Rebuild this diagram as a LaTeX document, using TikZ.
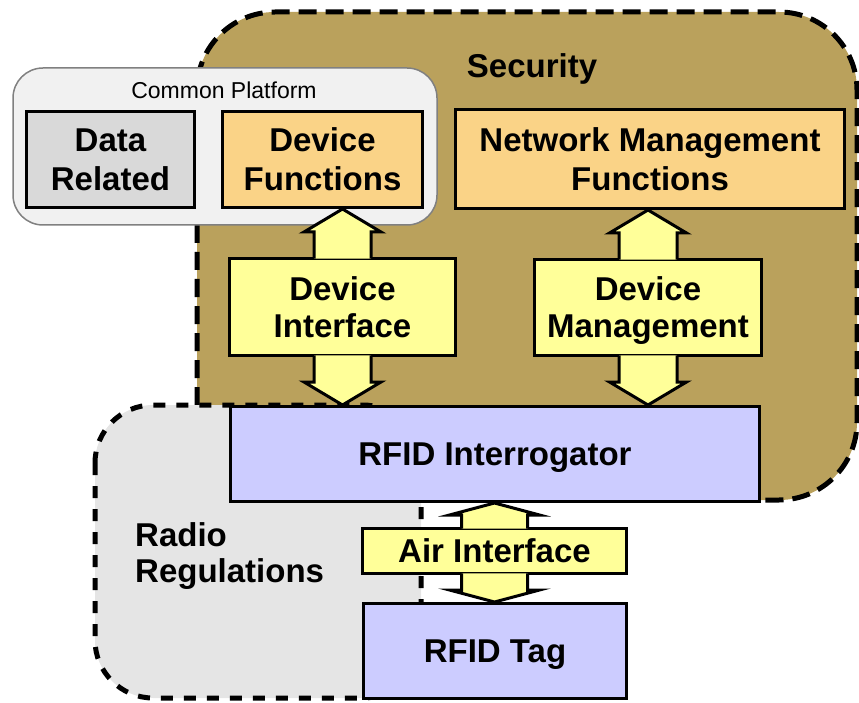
\documentclass[tikz,border=0pt]{standalone}
\usepackage{fontspec}
\setmainfont{Liberation Sans}
\usetikzlibrary{calc}
\definecolor{secfill}{RGB}{186,161,92}
\definecolor{radfill}{RGB}{229,229,229}
\definecolor{cpfill}{RGB}{241,241,241}
\definecolor{cpline}{RGB}{128,128,128}
\definecolor{datafill}{RGB}{217,217,217}
\definecolor{funfill}{RGB}{250,211,135}
\definecolor{armfill}{RGB}{255,255,153}
\definecolor{rfidfill}{RGB}{204,204,255}

\begin{document}
\begin{tikzpicture}[x=1pt,y=-1pt,
  blk/.style={draw,line width=3pt,inner sep=0pt,align=center,text depth=0pt,font=\bfseries\fontsize{33}{39}\selectfont},
  armbox/.style={blk,fill=armfill,font=\bfseries\fontsize{33}{37}\selectfont},
  arm/.style={fill=armfill,draw,line width=3pt,line join=miter},
  lbl/.style={inner sep=0pt,font=\bfseries\fontsize{33}{36}\selectfont}]
\useasboundingbox (0,0) rectangle (859,703);
% regions
\filldraw[fill=secfill,line width=5pt,dash pattern=on 18pt off 9pt,rounded corners=78pt] (197,12) rectangle (857,500);
\filldraw[fill=radfill,line width=5pt,dash pattern=on 12pt off 11pt,rounded corners=58pt] (95,405) rectangle (421,698);
\filldraw[fill=cpfill,draw=cpline,line width=1.5pt,rounded corners=30pt] (13,68) rectangle (437,225);
\node[lbl,anchor=base] (seclbl) at (532,78){Security};
\node[lbl,anchor=west,align=left,text depth=0pt] (radlbl) at (135,553){Radio\\Regulations};
\node[inner sep=0pt,anchor=base,font=\fontsize{23}{27}\selectfont] (cplbl) at (224,99){Common Platform};
% boxes
\node[blk,fill=datafill,minimum width=168pt,minimum height=96pt] (datarel) at (110.5,159.5){Data\\Related};
\node[blk,fill=funfill,minimum width=200pt,minimum height=96pt] (devfun) at (322.5,159.5){Device\\Functions};
\node[blk,fill=funfill,minimum width=389pt,minimum height=99pt] (netfun) at (650,159){Network Management\\Functions};
\node[blk,fill=rfidfill,minimum width=529pt,minimum height=95pt] (reader) at (495,454){RFID Interrogator};
\node[blk,fill=rfidfill,minimum width=263pt,minimum height=95pt] (tag) at (495,651){RFID Tag};
% double arrows
\node[armbox,minimum width=226pt,minimum height=97pt] (devif) at (342.5,307){Device\\Interface};
\node[armbox,minimum width=227pt,minimum height=96pt] (devmgt) at (648,307.5){Device\\Management};
\node[armbox,minimum width=264pt,minimum height=45pt] (airif) at (494.5,551){Air Interface};
\foreach \b/\e/\t/\d/\s/\w/\h in {devif/north/devfun.south/1/28.5/38.5/23,devif/south/reader.north/-1/28.5/38.5/23,
  devmgt/north/netfun.south/1/29/38.5/23,devmgt/south/reader.north/-1/29/38.5/23,
  airif/north/reader.south/1/33/45/12,airif/south/tag.north/-1/33/45/12}{
  \coordinate (tp) at (\b.\e |- \t);
  \filldraw[arm] ($(\b.\e)+(-\s,\d*1.6)$) -- ($(tp)+(-\s,\d*\h)$) -- ($(tp)+(-\w,\d*\h)$) -- (tp)
    -- ($(tp)+(\w,\d*\h)$) -- ($(tp)+(\s,\d*\h)$) -- ($(\b.\e)+(\s,\d*1.6)$);
}
\end{tikzpicture}
\end{document}
